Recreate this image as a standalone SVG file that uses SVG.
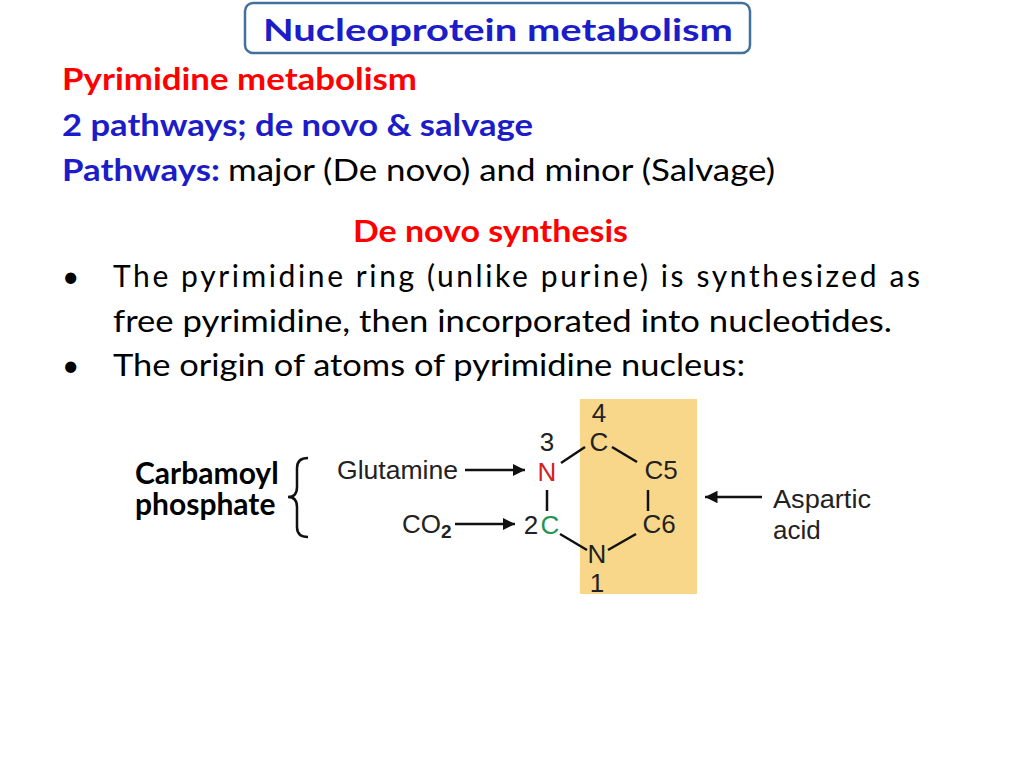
<svg xmlns="http://www.w3.org/2000/svg" width="1024" height="768" viewBox="0 0 1024 768">
<style>
.t{font-family:Lato,"Liberation Sans",sans-serif;font-size:30px}
.b{font-weight:bold}
.red{fill:#FF0000}.blue{fill:#1C1CC8}
.ch{font-family:"Liberation Sans",Arial,sans-serif;font-size:26px;fill:#222}
.bond{stroke:#111;stroke-width:2.5}
</style>
<defs><marker id="ah" viewBox="0 0 10 10" refX="10" refY="5" markerWidth="5" markerHeight="5" orient="auto"><path d="M0,0L10,5L0,10z" fill="#111"/></marker></defs>
<rect width="1024" height="768" fill="#fff"/>
<g id="title"><rect x="245" y="3" width="505" height="50" rx="8" fill="#fff" stroke="#41719C" stroke-width="2.5"/>
<text x="263" y="41" class="t b blue" font-size="34" textLength="470" lengthAdjust="spacingAndGlyphs">Nucleoprotein metabolism</text></g>
<g id="text">
<text x="62" y="90" class="t b red" textLength="355" lengthAdjust="spacingAndGlyphs">Pyrimidine metabolism</text>
<text x="62" y="136" class="t b blue" textLength="471" lengthAdjust="spacingAndGlyphs">2 pathways; de novo &amp; salvage</text>
<text x="62" y="181" class="t b blue" textLength="158" lengthAdjust="spacingAndGlyphs">Pathways:</text>
<text x="228" y="181" class="t" textLength="547" lengthAdjust="spacingAndGlyphs">major (De novo) and minor (Salvage)</text>
<text x="353" y="242" class="t b red" textLength="275" lengthAdjust="spacingAndGlyphs">De novo synthesis</text>
<text x="62" y="287" class="t">•</text>
<text x="113" y="287" class="t" textLength="807" lengthAdjust="spacing">The pyrimidine ring (unlike purine) is synthesized as</text>
<text x="113" y="332" class="t" textLength="779" lengthAdjust="spacingAndGlyphs">free pyrimidine, then incorporated into nucleotides.</text>
<text x="62" y="376" class="t">•</text>
<text x="113" y="376" class="t" textLength="632" lengthAdjust="spacingAndGlyphs">The origin of atoms of pyrimidine nucleus:</text>
</g>
<g id="carbamoyl"><text x="135" y="484" class="t b" font-size="20">Carbamoyl</text><text x="135" y="515" class="t b" font-size="20">phosphate</text>
<path d="M308,458 Q297,458 297,468 V487 Q297,497 288,497 Q297,497 297,507 V527 Q297,537 308,537" fill="none" stroke="#111" stroke-width="2.5"/></g>
<g id="ring">
<rect x="580" y="399" width="117" height="195" fill="#F9D78A"/>
<text x="599" y="422" class="ch" text-anchor="middle">4</text>
<text x="599" y="451" class="ch" text-anchor="middle">C</text>
<text x="547" y="451" class="ch" text-anchor="middle">3</text>
<text x="547" y="481" class="ch" text-anchor="middle" style="fill:#D42020">N</text>
<text x="661" y="479" class="ch" text-anchor="middle">C5</text>
<text x="659" y="533" class="ch" text-anchor="middle">C6</text>
<text x="531" y="534" class="ch" text-anchor="middle">2</text>
<text x="550" y="534" class="ch" text-anchor="middle" style="fill:#1E9650">C</text>
<text x="597" y="563" class="ch" text-anchor="middle">N</text>
<text x="597" y="592" class="ch" text-anchor="middle">1</text>
</g>
<g id="connectors">
<line class="bond" x1="561" y1="463" x2="585" y2="447"/>
<line class="bond" x1="612" y1="447" x2="637" y2="462"/>
<line class="bond" x1="547" y1="490" x2="547" y2="511"/>
<line class="bond" x1="648" y1="490" x2="648" y2="511"/>
<line class="bond" x1="560" y1="534" x2="587" y2="550"/>
<line class="bond" x1="608" y1="550" x2="636" y2="534"/>
<line class="bond" x1="465" y1="470" x2="525" y2="470" marker-end="url(#ah)"/>
<line class="bond" x1="455" y1="524" x2="515" y2="524" marker-end="url(#ah)"/>
<line class="bond" x1="762" y1="497" x2="705" y2="497" marker-end="url(#ah)"/>
</g>
<g id="labels">
<text x="337" y="479" class="ch" textLength="121" lengthAdjust="spacingAndGlyphs">Glutamine</text>
<text x="402" y="533" class="ch">CO<tspan font-size="19" dy="5" font-weight="bold">2</tspan></text>
<text x="773" y="508" class="ch" textLength="98" lengthAdjust="spacingAndGlyphs">Aspartic</text>
<text x="773" y="539" class="ch">acid</text>
</g>
</svg>
